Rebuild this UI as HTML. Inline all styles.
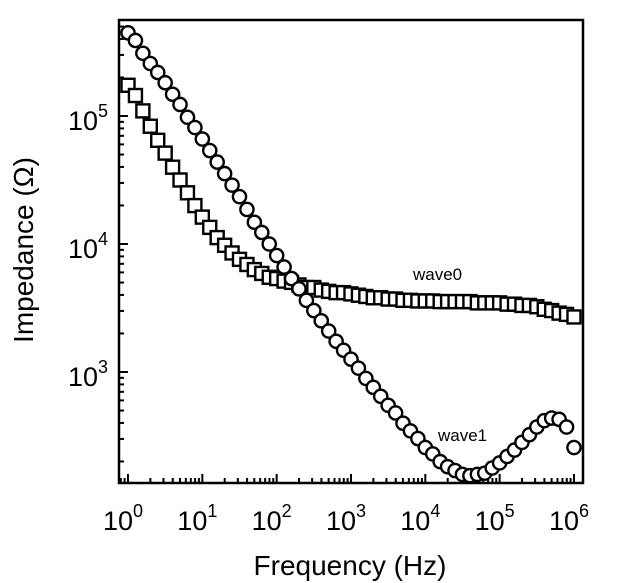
<!DOCTYPE html>
<html><head><meta charset="utf-8"><style>
html,body{margin:0;padding:0;background:#fff;}
svg{display:block;font-family:"Liberation Sans",Arial,sans-serif;}
</style></head><body>
<svg id="chart" width="640" height="583" viewBox="0 0 640 583" xmlns="http://www.w3.org/2000/svg">
<g id="ticks"></g>
<g id="labels"></g>
<g id="series0"></g>
<g id="series1"></g>
<rect x="119" y="20" width="464" height="463" fill="none" stroke="#000" stroke-width="2.5"/>
<text x="413" y="280" font-size="17">wave0</text>
<text x="438" y="441" font-size="17">wave1</text>
<text x="350" y="575" font-size="28" text-anchor="middle">Frequency (Hz)</text>
<text x="0" y="0" font-size="28" text-anchor="middle" transform="translate(33,250) rotate(-90)">Impedance (Ω)</text>
</svg>
<script>
// log10 frequency from 0 to 6 in steps of 0.1
const logFreqStart = 0, logFreqStep = 0.1;
const wave0LogZ = [5.24,5.16,5.04,4.92,4.81,4.71,4.60,4.50,4.40,4.30,
4.21,4.13,4.05,3.99,3.93,3.88,3.84,3.80,3.77,3.74,
3.73,3.71,3.70,3.68,3.66,3.66,3.64,3.63,3.62,3.62,
3.61,3.60,3.59,3.58,3.58,3.57,3.57,3.56,3.56,3.555,
3.555,3.555,3.55,3.55,3.55,3.55,3.55,3.54,3.54,3.54,
3.54,3.53,3.53,3.52,3.52,3.51,3.49,3.48,3.46,3.45,3.43];
const wave1LogZ = [5.65,5.59,5.49,5.41,5.34,5.26,5.17,5.09,4.99,4.91,
4.82,4.73,4.64,4.55,4.46,4.37,4.27,4.17,4.09,4.00,
3.91,3.82,3.73,3.65,3.56,3.48,3.40,3.32,3.24,3.17,
3.10,3.03,2.95,2.88,2.81,2.74,2.68,2.60,2.54,2.48,
2.41,2.36,2.30,2.26,2.23,2.20,2.19,2.20,2.21,2.25,
2.29,2.34,2.39,2.45,2.51,2.57,2.62,2.64,2.63,2.57,2.41];
const xTickExps = [0,1,2,3,4,5,6];
const yTickExps = [3,4,5];

const NS = "http://www.w3.org/2000/svg";
const X0 = 128, XD = 74.33, Y5 = 116, YD = 128;
const xLog = l => X0 + XD * l;
const yLog = l => Y5 - YD * (l - 5);
const XMIN = -0.12, XMAX = 6.12, YMIN = 2.133, YMAX = 5.75;
function mk(tag, attrs, parent) {
  const e = document.createElementNS(NS, tag);
  for (const k in attrs) e.setAttribute(k, attrs[k]);
  parent.appendChild(e);
  return e;
}
const tg = document.getElementById('ticks');
const lg = document.getElementById('labels');
for (let d = -1; d <= 6; d++) {
  for (let m = 1; m <= 9; m++) {
    const l = d + Math.log10(m);
    if (l < XMIN || l > XMAX) continue;
    const x = xLog(l), len = m === 1 ? 9 : 5;
    const t = mk('line', {x1: x, x2: x, y1: 483, y2: 483 - len, stroke: '#000', 'stroke-width': 2}, tg);
    
    
  }
}
for (let d = 2; d <= 5; d++) {
  for (let m = 1; m <= 9; m++) {
    const l = d + Math.log10(m);
    if (l < YMIN || l > YMAX) continue;
    const y = yLog(l), len = m === 1 ? 9 : 5;
    const t = mk('line', {x1: 119, x2: 119 + len, y1: y, y2: y, stroke: '#000', 'stroke-width': 2}, tg);
    
    
  }
}
xTickExps.forEach(e => {
  const t = mk('text', {x: xLog(e) - 5, y: 530, 'font-size': 27, 'text-anchor': 'middle'}, lg);
  
  
  t.innerHTML = '10<tspan font-size="18" dy="-13">' + e + '</tspan>';
});
yTickExps.forEach(e => {
  const t = mk('text', {x: 98, y: yLog(e) + 14, 'font-size': 27, 'text-anchor': 'end'}, lg);
  
  
  t.textContent = '10';
  const s = mk('text', {x: 98, y: yLog(e) + 1, 'font-size': 18}, lg);
  
  
  s.textContent = e;
});
const g0 = document.getElementById('series0');
wave0LogZ.forEach((v, i) => {
  const x = xLog(logFreqStart + i * logFreqStep), y = yLog(v);
  const r = mk('rect', {x: x - 6.5, y: y - 6.5, width: 13, height: 13, fill: '#fff', stroke: '#000', 'stroke-width': 2.4}, g0);
  
  
});
const g1 = document.getElementById('series1');
wave1LogZ.forEach((v, i) => {
  const x = xLog(logFreqStart + i * logFreqStep), y = yLog(v);
  const c = mk('circle', {cx: x, cy: y, r: 6.6, fill: '#fff', stroke: '#000', 'stroke-width': 2.4}, g1);
  
  
});
</script>
</body></html>
